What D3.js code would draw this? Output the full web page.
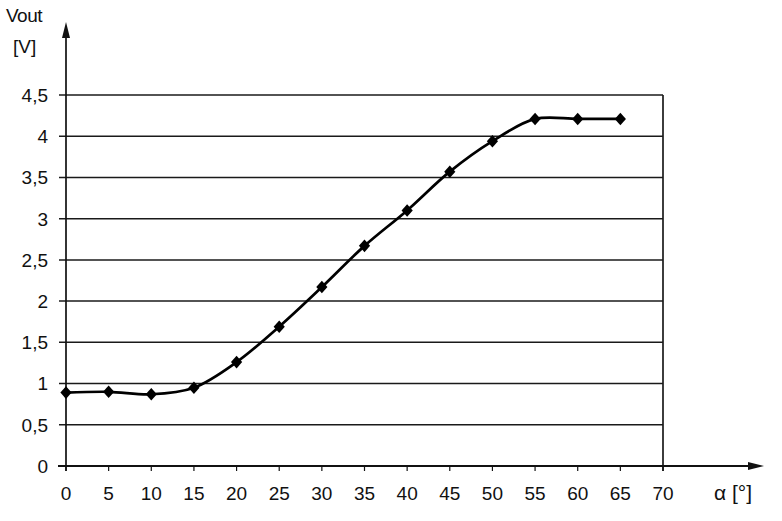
<!DOCTYPE html>
<html><head><meta charset="utf-8">
<script src="https://cdn.jsdelivr.net/npm/d3@7"></script>
<style>body{margin:0;background:#fff}svg{display:block}text{font-family:"Liberation Sans",Arial,sans-serif;fill:#111}</style>
</head><body><svg id="c" width="782" height="521"></svg>
<script>
const angles = [0,5,10,15,20,25,30,35,40,45,50,55,60,65];
const vout = [0.89,0.9,0.87,0.95,1.26,1.69,2.17,2.67,3.1,3.57,3.94,4.21,4.21,4.21];
const xTicks = [0,5,10,15,20,25,30,35,40,45,50,55,60,65,70];
const yTicks = [0,0.5,1,1.5,2,2.5,3,3.5,4,4.5];
const yTickLabels = ["0","0,5","1","1,5","2","2,5","3","3,5","4","4,5"];

const svg = d3.select("#c");
const x = d3.scaleLinear().domain([0,70]).range([66,663]);
const y = d3.scaleLinear().domain([0,4.5]).range([466,95]);

// grid lines
svg.append("g").selectAll("line").data(yTicks.filter(d=>d>0)).join("line")
  .attr("x1",59).attr("x2",x(70)).attr("y1",d=>y(d)).attr("y2",d=>y(d))
  .attr("stroke","#1a1a1a").attr("stroke-width",1.5);
// right border
svg.append("line").attr("x1",x(70)).attr("x2",x(70)).attr("y1",y(4.5)).attr("y2",y(0)+5)
  .attr("stroke","#1a1a1a").attr("stroke-width",1.7);

// y tick labels
svg.append("g").selectAll("text").data(yTicks).join("text")
  .attr("x",48).attr("y",d=>y(d)).attr("dy","0.36em").attr("text-anchor","end")
  .attr("font-size",19).text((d,i)=>yTickLabels[i]);

// x axis
svg.append("line").attr("x1",58).attr("x2",752).attr("y1",y(0)).attr("y2",y(0))
  .attr("stroke","#111").attr("stroke-width",1.8);
svg.append("path").attr("d",`M764,${y(0)} L748,${y(0)-4} L748,${y(0)+4} Z`).attr("fill","#111");
svg.append("g").selectAll("line").data(xTicks).join("line")
  .attr("x1",d=>x(d)).attr("x2",d=>x(d)).attr("y1",y(0)).attr("y2",y(0)+5)
  .attr("stroke","#111").attr("stroke-width",1.2);
svg.append("g").selectAll("text").data(xTicks).join("text")
  .attr("x",d=>x(d)).attr("y",500).attr("text-anchor","middle")
  .attr("font-size",19).text(d=>d);
svg.append("text").attr("x",714).attr("y",500).attr("font-size",21).text("α [°]");

// y axis
svg.append("line").attr("x1",x(0)).attr("x2",x(0)).attr("y1",33).attr("y2",y(0)+5)
  .attr("stroke","#111").attr("stroke-width",1.7);
svg.append("path").attr("d",`M${x(0)},22 L${x(0)-4},38 L${x(0)+4},38 Z`).attr("fill","#111");
svg.append("text").attr("x",6).attr("y",22).attr("font-size",19).attr("letter-spacing",-0.5).text("Vout");
svg.append("text").attr("x",13).attr("y",53).attr("font-size",19).text("[V]");

// curve
const pts = angles.map((a,i)=>[a,vout[i]]);
svg.append("path").datum(pts)
  .attr("d",d3.line().x(d=>x(d[0])).y(d=>y(d[1])).curve(d3.curveCatmullRom.alpha(0.5)))
  .attr("fill","none").attr("stroke","#000").attr("stroke-width",2.7);
svg.append("g").selectAll("path").data(pts).join("path")
  .attr("d",d3.symbol(d3.symbolDiamond2,80)).attr("fill","#000")
  .attr("transform",d=>`translate(${x(d[0])},${y(d[1])}) scale(1.0,1.12)`);
</script></body></html>
